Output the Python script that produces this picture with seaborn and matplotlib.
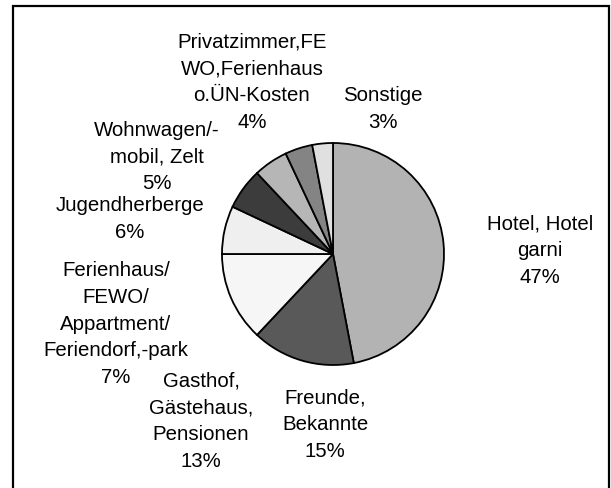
import matplotlib
matplotlib.use("Agg")
import matplotlib.pyplot as plt
import seaborn as sns
from matplotlib.patches import Rectangle

# ---- data ----
categories = [
    "Hotel, Hotel\ngarni",
    "Freunde,\nBekannte",
    "Gasthof,\nGästehaus,\nPensionen",
    "Ferienhaus/\nFEWO/\nAppartment/\nFeriendorf,-park",
    "Jugendherberge",
    "Wohnwagen/-\nmobil, Zelt",
    "Privatzimmer,FE\nWO,Ferienhaus\no.ÜN-Kosten",
    "Sonstige",
]
shares = [47, 15, 13, 7, 6, 5, 4, 3]
colors = ["#b3b3b3", "#595959", "#f6f6f6", "#efefef",
          "#3c3c3c", "#b6b6b6", "#848484", "#e0e0e0"]

# label anchor positions in pixels (x, y from top) – layout only
label_pos = [(540, 251), (325, 425), (201, 421), (116, 324),
             (130, 219), (157, 157), (252, 82), (383, 109)]

sns.set_style("white")
plt.rcParams["font.family"] = ["Liberation Sans", "DejaVu Sans"]

W, H = 611, 488
fig = plt.figure(figsize=(W / 100, H / 100), dpi=100)
ax = fig.add_axes([0, 0, 1, 1])
ax.set_xlim(0, W)
ax.set_ylim(0, H)
ax.set_aspect("equal")
ax.axis("off")

cx, cy, r = 333, H - 254, 111
ax.pie(shares, colors=colors, startangle=90, counterclock=False,
       center=(cx, cy), radius=r,
       wedgeprops=dict(edgecolor="black", linewidth=1.3))
ax.set_xlim(0, W)
ax.set_ylim(0, H)

for cat, val, (x, y) in zip(categories, shares, label_pos):
    ax.text(x, H - y, f"{cat}\n{val}%", ha="center", va="center",
            multialignment="center", fontsize=14.7, linespacing=1.52,
            color="black")

# outer frame (bottom edge lies outside the image)
ax.add_patch(Rectangle((13, -10), 596, H - 6 + 10, fill=False,
                       edgecolor="black", linewidth=1.6, clip_on=False))

fig.savefig("out.png", dpi=100)
